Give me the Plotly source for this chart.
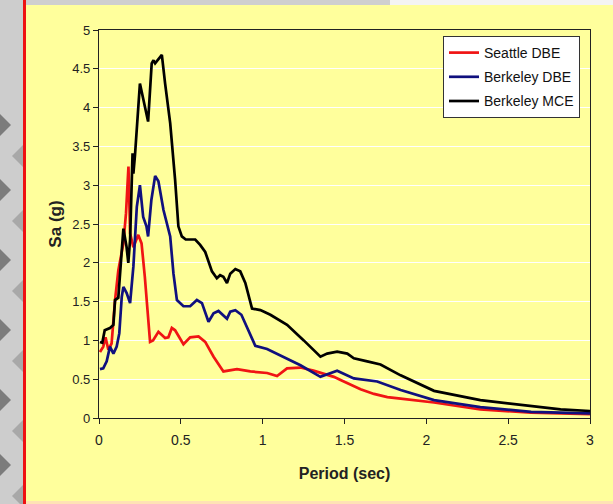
import plotly.graph_objects as go

# ---------------- data ----------------
series_names = ["Seattle DBE", "Berkeley DBE", "Berkeley MCE"]

seattle_T = [0.006, 0.026, 0.04, 0.057, 0.077, 0.098, 0.118, 0.135, 0.149, 0.165, 0.18,
             0.19, 0.21, 0.24, 0.26, 0.28, 0.30, 0.312, 0.33, 0.363, 0.404, 0.424,
             0.445, 0.465, 0.516, 0.557, 0.608, 0.649, 0.70, 0.76, 0.843, 0.925,
             1.027, 1.088, 1.149, 1.23, 1.31, 1.435, 1.476, 1.598, 1.68, 1.762,
             1.843, 2.047, 2.33, 2.64, 3.0]
seattle_Sa = [0.85, 0.92, 1.04, 0.88, 0.96, 1.52, 1.90, 2.10, 2.25, 2.64, 3.24,
              2.38, 2.20, 2.36, 2.25, 1.82, 1.22, 0.98, 1.00, 1.11, 1.03, 1.04,
              1.16, 1.13, 0.95, 1.04, 1.05, 0.98, 0.79, 0.60, 0.63, 0.60,
              0.58, 0.54, 0.64, 0.65, 0.61, 0.53, 0.49, 0.37, 0.31, 0.27,
              0.25, 0.20, 0.11, 0.07, 0.05]

berk_dbe_T = [0.006, 0.026, 0.047, 0.067, 0.088, 0.108, 0.124, 0.139, 0.149, 0.169,
              0.19, 0.21, 0.231, 0.25, 0.27, 0.29, 0.30, 0.32, 0.343, 0.363, 0.394,
              0.424, 0.435, 0.455, 0.476, 0.516, 0.557, 0.598, 0.629, 0.669, 0.70,
              0.73, 0.782, 0.802, 0.833, 0.87, 0.955, 1.027, 1.129, 1.231, 1.353,
              1.455, 1.557, 1.7, 1.843, 2.047, 2.33, 2.64, 3.0]
berk_dbe_Sa = [0.63, 0.64, 0.73, 0.92, 0.83, 0.92, 1.09, 1.56, 1.69, 1.61,
               1.48, 1.95, 2.72, 3.00, 2.59, 2.47, 2.34, 2.81, 3.12, 3.05, 2.68,
               2.45, 2.34, 1.86, 1.52, 1.44, 1.44, 1.52, 1.48, 1.24, 1.35,
               1.38, 1.28, 1.37, 1.39, 1.33, 0.93, 0.89, 0.79, 0.68, 0.53,
               0.61, 0.51, 0.47, 0.36, 0.23, 0.14, 0.08, 0.06]

berk_mce_T = [0.006, 0.02, 0.035, 0.067, 0.088, 0.098, 0.118, 0.13, 0.149, 0.168,
              0.179, 0.19, 0.198, 0.205, 0.21, 0.22, 0.25, 0.28, 0.30, 0.322,
              0.333, 0.343, 0.363, 0.384, 0.404, 0.435, 0.465, 0.485, 0.506, 0.53,
              0.588, 0.618, 0.649, 0.69, 0.72, 0.74, 0.76, 0.782, 0.802, 0.833,
              0.863, 0.894, 0.935, 0.986, 1.047, 1.149, 1.251, 1.353, 1.394, 1.455,
              1.517, 1.557, 1.639, 1.72, 1.843, 2.047, 2.33, 2.62, 2.82, 3.0]
berk_mce_Sa = [0.98, 0.97, 1.13, 1.16, 1.20, 1.52, 1.55, 1.95, 2.44, 2.21,
               2.00, 2.30, 3.05, 3.41, 3.15, 3.39, 4.31, 4.03, 3.82, 4.57,
               4.61, 4.57, 4.63, 4.68, 4.31, 3.80, 3.07, 2.47, 2.34, 2.30,
               2.30, 2.23, 2.14, 1.89, 1.80, 1.84, 1.82, 1.74, 1.86, 1.92,
               1.89, 1.74, 1.41, 1.39, 1.33, 1.20, 1.00, 0.79, 0.83, 0.855,
               0.83, 0.77, 0.73, 0.69, 0.55, 0.35, 0.23, 0.155, 0.11, 0.09]

x_ticks = [0, 0.5, 1, 1.5, 2, 2.5, 3]
x_tick_labels = ["0", "0.5", "1", "1.5", "2", "2.5", "3"]
y_ticks = [0, 0.5, 1, 1.5, 2, 2.5, 3, 3.5, 4, 4.5, 5]
y_tick_labels = ["0", "0.5", "1", "1.5", "2", "2.5", "3", "3.5", "4", "4.5", "5"]

x_title = "Period (sec)"
y_title = "Sa (g)"

# ---------------- styling ----------------
W, H = 613, 504
L, R, T, B = 99, 23, 30, 86
PW, PH = W - L - R, H - T - B
YELLOW = "#FFFF9C"
FONT = "Liberation Sans, Arial, sans-serif"


def px(x):
    return (x - L) / PW


def py(y):
    return (H - B - y) / PH


colors = ["#F01414", "#10107E", "#000000"]

fig = go.Figure()
for name, xs, ys, c in zip(series_names,
                           [seattle_T, berk_dbe_T, berk_mce_T],
                           [seattle_Sa, berk_dbe_Sa, berk_mce_Sa],
                           colors):
    fig.add_trace(go.Scatter(x=xs, y=ys, mode="lines", name=name,
                             legendgroup=name,
                             line=dict(color=c, width=2.7)))

shapes = []
# left grey slide strip
shapes.append(dict(type="rect", xref="paper", yref="paper", x0=px(0), x1=px(23),
                   y0=py(H), y1=py(0), fillcolor="#CDCDCD", line_width=0, layer="below"))
# darker diamond pattern on the strip
for cy in [125, 190, 260, 330, 400, 465]:
    shapes.append(dict(type="path", xref="paper", yref="paper",
                       path="M {a},{b} L {c},{d} L {a},{e} Z".format(
                           a=px(0), b=py(cy - 11), c=px(11), d=py(cy), e=py(cy + 11)),
                       fillcolor="#7C7C7C", line_width=0, layer="below"))
    shapes.append(dict(type="path", xref="paper", yref="paper",
                       path="M {a},{b} L {c},{d} L {a},{e} Z".format(
                           a=px(23), b=py(cy + 20), c=px(12), d=py(cy + 31), e=py(cy + 42)),
                       fillcolor="#A8A8A8", line_width=0, layer="below"))
# red divider line
shapes.append(dict(type="rect", xref="paper", yref="paper", x0=px(23), x1=px(26),
                   y0=py(H), y1=py(0), fillcolor="#EE1111", line_width=0, layer="below"))
# top strip
shapes.append(dict(type="rect", xref="paper", yref="paper", x0=px(26), x1=px(390),
                   y0=py(5), y1=py(0), fillcolor="#CFCFCF", line_width=0, layer="below"))
shapes.append(dict(type="rect", xref="paper", yref="paper", x0=px(390), x1=px(W),
                   y0=py(5), y1=py(0), fillcolor="#F4F4F4", line_width=0, layer="below"))
# bottom strip
shapes.append(dict(type="rect", xref="paper", yref="paper", x0=px(26), x1=px(W),
                   y0=py(H), y1=py(501), fillcolor="#FFE2B5", line_width=0, layer="below"))

fig.update_layout(
    width=W, height=H,
    margin=dict(l=L, r=R, t=T, b=B, pad=0),
    paper_bgcolor=YELLOW, plot_bgcolor=YELLOW,
    font=dict(family=FONT, color="#222222", size=13),
    shapes=shapes,
    showlegend=True,
    legend=dict(x=px(443), y=py(36), xanchor="left", yanchor="top",
                bgcolor="#FFFFFF", bordercolor="#333333", borderwidth=1,
                font=dict(family=FONT, size=14, color="#111111"),
                tracegroupgap=3, itemwidth=30),
    xaxis=dict(range=[0, 3], tickvals=x_ticks, ticktext=x_tick_labels,
               showgrid=False, zeroline=False,
               showline=True, linecolor="#222222", linewidth=1.3, mirror=True,
               ticks="outside", ticklen=5, tickcolor="#222222",
               tickfont=dict(size=14), ticklabelstandoff=4,
               title=dict(text="<b>" + x_title + "</b>", font=dict(size=16), standoff=20)),
    yaxis=dict(range=[0, 5], tickvals=y_ticks, ticktext=y_tick_labels,
               showgrid=True, gridcolor="#FFFFFF", gridwidth=1.2, zeroline=False,
               showline=True, linecolor="#222222", linewidth=1.3, mirror=True,
               ticks="outside", ticklen=5, tickcolor="#222222",
               tickfont=dict(size=13),
               title=dict(text="<b>" + y_title + "</b>", font=dict(size=17), standoff=6)),
)

fig.write_html("out.html",
               config={"displayModeBar": False},
               post_script="document.body.style.margin='0';"
                           "document.body.style.padding='0';"
                           "document.body.style.overflow='hidden';")
